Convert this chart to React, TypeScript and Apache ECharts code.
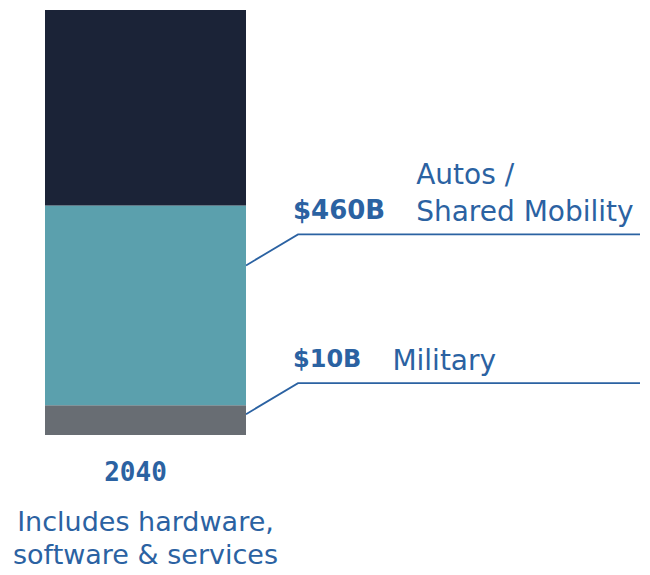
import { useEffect, useRef } from "react";
import * as echarts from "echarts";

// ---- data ----
const categories = ["2040"];
const segmentNames = ["Military", "Autos / Shared Mobility", "Other"];
const segmentValueLabels = ["$10B", "$460B", ""];
const segmentNameLines = [["Military"], ["Autos /", "Shared Mobility"], []];
// relative heights of the stacked segments as drawn (bottom → top)
const segmentShares = [7, 47, 46];
const footnoteLines = ["Includes hardware,", "software & services"];

// ---- style ----
const segmentColors = ["#686d73", "#5ba0ad", "#1b2337"];
const valueFontSizes = [24, 26, 26];
const TEXT_BLUE = "#2b62a2";
const GRID_LEFT = 45;
const GRID_RIGHT = 404;
const GRID_TOP = 10;
const GRID_BOTTOM = 140;

function measure(text: string, font: string): number {
  const c = document.createElement("canvas");
  const ctx = c.getContext("2d")!;
  ctx.font = font;
  return ctx.measureText(text).width;
}

export default function App() {
  const ref = useRef<HTMLDivElement>(null);

  useEffect(() => {
    const el = ref.current!;
    const chart = echarts.init(el, null, { renderer: "svg" });
    const total = segmentShares.reduce((a, b) => a + b, 0);

    const series = segmentShares.map((v, i) => ({
      type: "bar",
      name: segmentNames[i],
      stack: "total",
      data: [v],
      barWidth: "100%",
      silent: true,
      itemStyle: { color: segmentColors[i] },
    }));

    chart.setOption({
      animation: false,
      grid: { left: GRID_LEFT, right: GRID_RIGHT, top: GRID_TOP, bottom: GRID_BOTTOM },
      xAxis: {
        type: "category",
        data: categories,
        axisLine: { show: false },
        axisTick: { show: false },
        axisLabel: {
          color: TEXT_BLUE,
          fontFamily: "DejaVu Sans Mono",
          fontWeight: "bold",
          fontSize: 26,
          margin: 24,
          padding: [0, 20, 0, 0],
        },
      },
      yAxis: { type: "value", min: 0, max: total, show: false },
      series,
    });

    const W = chart.getWidth();
    const barRight = W - GRID_RIGHT;
    const graphics: any[] = [];
    let cum = 0;
    segmentShares.forEach((v, i) => {
      const top = cum + v;
      const anchorVal = top - 0.3 * v;
      cum = top;
      if (!segmentValueLabels[i]) return;
      const pt = chart.convertToPixel({ xAxisIndex: 0, yAxisIndex: 0 }, [0, anchorVal]) as number[];
      const ay = pt[1];
      const kneeX = barRight + 52;
      const kneeY = ay - 31;
      graphics.push({
        type: "polyline",
        silent: true,
        shape: { points: [[barRight, ay], [kneeX, kneeY], [640, kneeY]] },
        style: { stroke: TEXT_BLUE, lineWidth: 1.8, fill: "none" },
      });
      const vfs = valueFontSizes[i];
      const valueX = kneeX - 5;
      const textY = kneeY - 24;
      graphics.push({
        type: "text",
        silent: true,
        x: valueX,
        y: textY,
        style: {
          text: segmentValueLabels[i],
          fill: TEXT_BLUE,
          font: `bold ${vfs}px "DejaVu Sans"`,
          align: "left",
          verticalAlign: "middle",
        },
      });
      const vw = measure(segmentValueLabels[i], `bold ${vfs}px "DejaVu Sans"`);
      const nameX = valueX + vw + 31;
      const lines = segmentNameLines[i];
      lines.forEach((ln, j) => {
        graphics.push({
          type: "text",
          silent: true,
          x: nameX,
          y: textY + 1 - (lines.length - 1 - j) * 37,
          style: {
            text: ln,
            fill: TEXT_BLUE,
            font: `28px "DejaVu Sans"`,
            align: "left",
            verticalAlign: "middle",
          },
        });
      });
    });

    const centerX = (GRID_LEFT + barRight) / 2;
    footnoteLines.forEach((ln, j) => {
      graphics.push({
        type: "text",
        silent: true,
        x: centerX,
        y: 521 + j * 33,
        style: {
          text: ln,
          fill: TEXT_BLUE,
          font: `27px "DejaVu Sans"`,
          align: "center",
          verticalAlign: "middle",
        },
      });
    });

    chart.setOption({ graphic: graphics });

    return () => chart.dispose();
  }, []);

  return (
    <div
      ref={ref}
      style={{ position: "fixed", left: 0, top: 0, width: 650, height: 575, background: "#fff" }}
    />
  );
}
